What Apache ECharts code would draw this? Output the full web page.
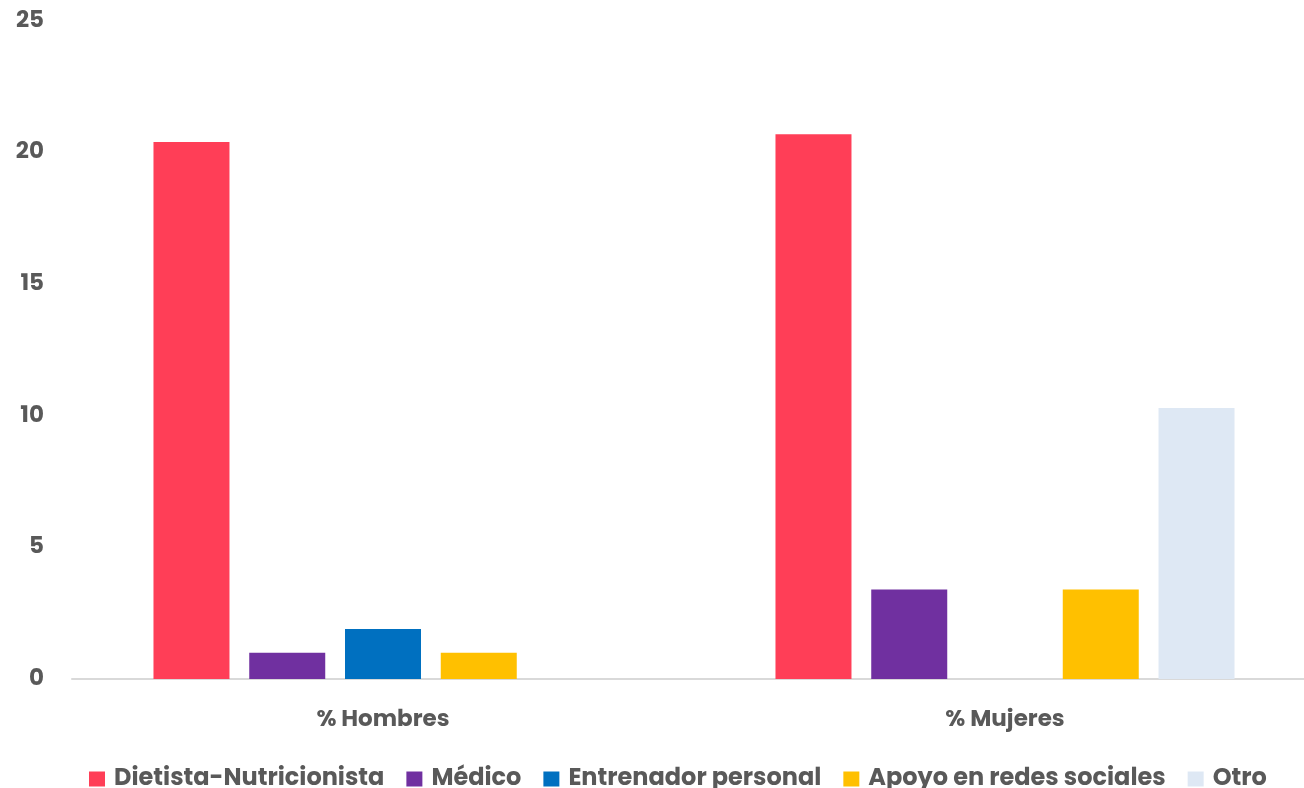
<!DOCTYPE html>
<html>
<head>
<meta charset="utf-8">
<script src="https://cdn.jsdelivr.net/npm/echarts@6/dist/echarts.min.js"></script>
<style>
html,body{margin:0;padding:0;background:#fff;overflow:hidden;}
#chart{width:1304px;height:788px;}
</style>
</head>
<body>
<div id="chart"></div>
<script>
const categories = ['% Hombres', '% Mujeres'];
const seriesNames = ['Dietista-Nutricionista', 'Médico', 'Entrenador personal', 'Apoyo en redes sociales', 'Otro'];
const dietista = [20.4, 20.7];
const medico = [1.0, 3.4];
const entrenador = [1.9, 0];
const apoyo = [1.0, 3.4];
const otro = [0, 10.3];
const yTicks = [0, 5, 10, 15, 20, 25];
const colors = ['#FF3E57', '#7030A0', '#0070C0', '#FFC000', '#DEE8F4'];

const seriesValues = [dietista, medico, entrenador, apoyo, otro];
const FONT = 'Poppins, Inter, "Open Sans", sans-serif';
const TXT = '#595959';

const chart = echarts.init(document.getElementById('chart'), null, {renderer: 'canvas'});
chart.setOption({
  backgroundColor: '#ffffff',
  animation: false,
  grid: {left: 72, width: 1244, top: 21, height: 658, containLabel: false, outerBoundsMode: 'none'},
  legend: {
    left: 89, top: 767, padding: 0,
    itemWidth: 16, itemHeight: 15, itemGap: 22,
    icon: 'rect',
    data: seriesNames,
    textStyle: {color: TXT, fontFamily: FONT, fontWeight: 700, fontSize: 24, lineHeight: 24, padding: [0, 0, 0, 4]}
  },
  xAxis: {
    type: 'category',
    data: categories,
    axisLine: {show: true, lineStyle: {color: '#D9D9D9', width: 2}},
    axisTick: {show: false},
    axisLabel: {color: TXT, fontFamily: FONT, fontWeight: 700, fontSize: 23, lineHeight: 24, margin: 29}
  },
  yAxis: {
    type: 'value',
    min: yTicks[0], max: yTicks[yTicks.length - 1], interval: 5,
    splitLine: {show: false},
    axisLine: {show: false},
    axisTick: {show: false},
    axisLabel: {color: TXT, fontFamily: FONT, fontWeight: 700, fontSize: 23, margin: 28}
  },
  series: seriesNames.map((name, i) => ({
    name: name,
    type: 'bar',
    data: seriesValues[i],
    barWidth: 76,
    barGap: '26%',
    itemStyle: {color: colors[i]}
  }))
});
</script>
</body>
</html>
